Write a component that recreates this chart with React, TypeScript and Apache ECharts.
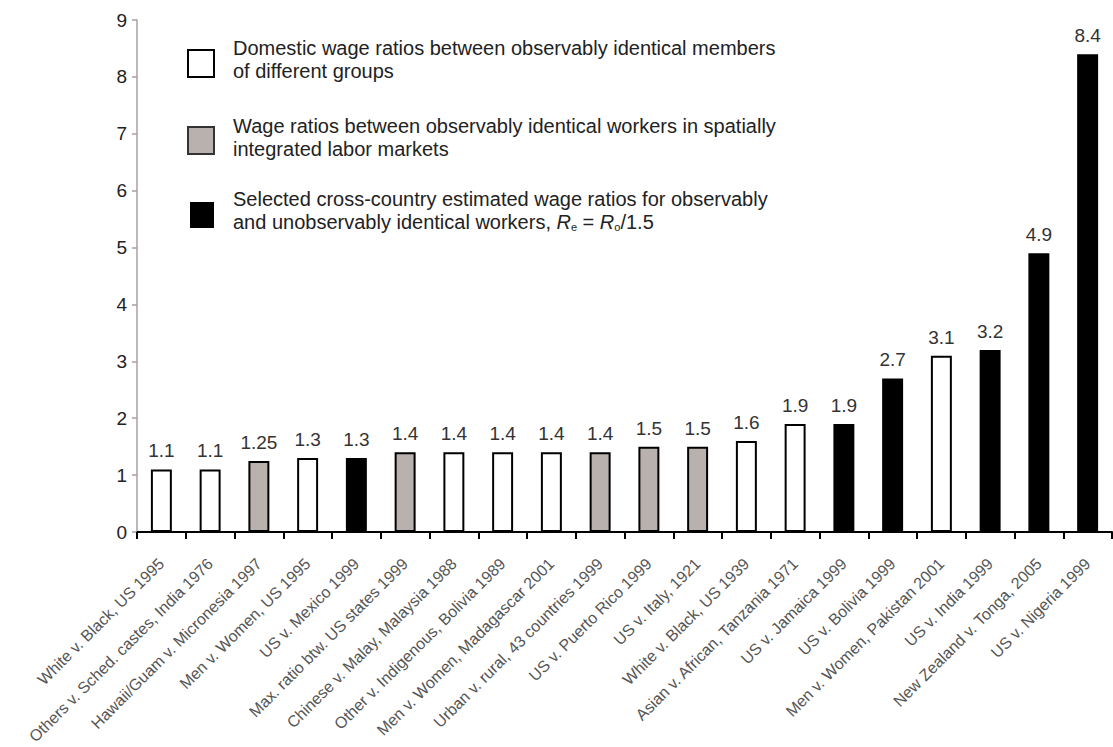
import React, { useEffect, useRef } from "react";
import * as echarts from "echarts";

const categories = [
  "White v. Black, US 1995",
  "Others v. Sched. castes, India 1976",
  "Hawaii/Guam v. Micronesia 1997",
  "Men v. Women, US 1995",
  "US v. Mexico 1999",
  "Max. ratio btw. US states 1999",
  "Chinese v. Malay, Malaysia 1988",
  "Other v. Indigenous, Bolivia 1989",
  "Men v. Women, Madagascar 2001",
  "Urban v. rural, 43 countries 1999",
  "US v. Puerto Rico 1999",
  "US v. Italy, 1921",
  "White v. Black, US 1939",
  "Asian v. African, Tanzania 1971",
  "US v. Jamaica 1999",
  "US v. Bolivia 1999",
  "Men v. Women, Pakistan 2001",
  "US v. India 1999",
  "New Zealand v. Tonga, 2005",
  "US v. Nigeria 1999",
];

const values = [1.1, 1.1, 1.25, 1.3, 1.3, 1.4, 1.4, 1.4, 1.4, 1.4, 1.5, 1.5, 1.6, 1.9, 1.9, 2.7, 3.1, 3.2, 4.9, 8.4];

// D = domestic (white), S = spatially integrated (gray), C = cross-country (black)
const groups = ["D", "D", "S", "D", "C", "S", "D", "D", "D", "S", "S", "S", "D", "D", "C", "C", "D", "C", "C", "C"];

const valueLabels = ["1.1", "1.1", "1.25", "1.3", "1.3", "1.4", "1.4", "1.4", "1.4", "1.4", "1.5", "1.5", "1.6", "1.9", "1.9", "2.7", "3.1", "3.2", "4.9", "8.4"];

const yTicks = [0, 1, 2, 3, 4, 5, 6, 7, 8, 9];

const legendTexts = [
  "Domestic wage ratios between observably identical members\nof different groups",
  "Wage ratios between observably identical workers in spatially\nintegrated labor markets",
  "Selected cross-country estimated wage ratios for observably\nand unobservably identical workers, {it|R}{sub|e} = {it|R}{sub|o}/1.5",
];

const FONT = "'Liberation Sans', Arial, sans-serif";
const GRAY = "#b9b1ad";

const fills: Record<string, string> = { D: "#ffffff", S: GRAY, C: "#000000" };

export default function App() {
  const ref = useRef<HTMLDivElement>(null);
  useEffect(() => {
    document.body.style.margin = "0";
    const chart = echarts.init(ref.current!, null, { renderer: "svg" });
    const data = values.map((v, i) => ({
      value: v,
      itemStyle: {
        color: fills[groups[i]],
        borderColor: "#000",
        borderWidth: groups[i] === "C" ? 0 : 2,
      },
      label: { formatter: valueLabels[i] },
    }));
    const textStyle = {
      fontFamily: FONT,
      fontSize: 20,
      lineHeight: 23,
      fill: "#222",
      rich: {
        it: { fontFamily: FONT, fontSize: 20, fontStyle: "italic", fill: "#222" },
        sub: { fontFamily: FONT, fontSize: 11, fill: "#222", padding: [10, 0, 0, 0] },
      },
    };
    chart.setOption({
      animation: false,
      backgroundColor: "#fff",
      grid: { left: 137, right: 1, top: 20, bottom: 215, containLabel: false, outerBoundsMode: "none" },
      xAxis: {
        type: "category",
        data: categories,
        axisLine: { lineStyle: { color: "#000", width: 2 } },
        axisTick: { show: true, length: 7, lineStyle: { color: "#000", width: 2 } },
        axisLabel: {
          rotate: 45,
          interval: 0,
          margin: 29,
          fontFamily: FONT,
          fontSize: 16,
          color: "#555",
        },
      },
      yAxis: {
        type: "value",
        min: 0,
        max: 9,
        interval: 1,
        splitLine: { show: false },
        axisLine: { show: true, lineStyle: { color: "#a9a19f", width: 1.5 } },
        axisTick: { show: true, length: 5, lineStyle: { color: "#a9a19f", width: 1.5 } },
        axisLabel: {
          margin: 10,
          fontFamily: FONT,
          fontSize: 19,
          color: "#222",
          formatter: (v: number) => (yTicks.includes(v) ? String(v) : ""),
        },
      },
      series: [
        {
          type: "bar",
          data,
          barWidth: "43%",
          label: {
            show: true,
            position: "top",
            distance: 9,
            fontFamily: FONT,
            fontSize: 19,
            color: "#333",
          },
        },
      ],
      graphic: [
        { type: "rect", shape: { x: 188, y: 50, width: 26, height: 27 }, style: { fill: "#fff", stroke: "#000", lineWidth: 2 } },
        { type: "text", x: 233, y: 36, style: { ...textStyle, text: legendTexts[0] } },
        { type: "rect", shape: { x: 188, y: 127, width: 26, height: 27 }, style: { fill: GRAY, stroke: "#333", lineWidth: 2 } },
        { type: "text", x: 233, y: 114, style: { ...textStyle, text: legendTexts[1] } },
        { type: "rect", shape: { x: 190, y: 202, width: 24, height: 26 }, style: { fill: "#000" } },
        { type: "text", x: 233, y: 187, style: { ...textStyle, text: legendTexts[2] } },
      ],
    });
    return () => chart.dispose();
  }, []);
  return <div ref={ref} style={{ width: 1113, height: 747 }} />;
}
